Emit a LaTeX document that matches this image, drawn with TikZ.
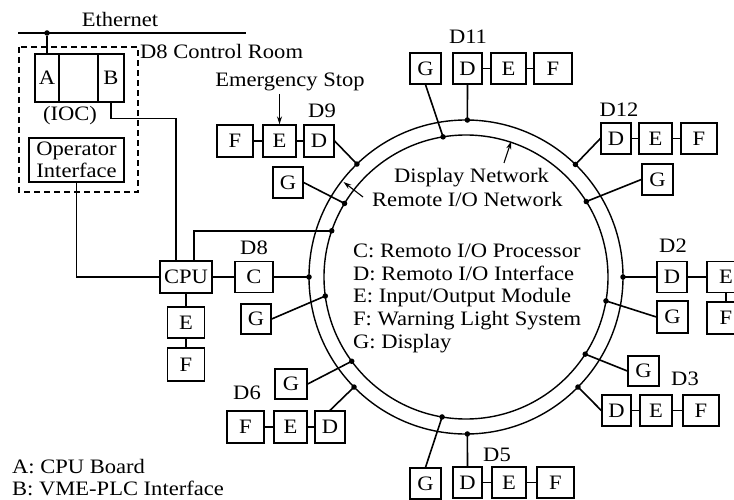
\documentclass[tikz,border=0pt]{standalone}
\usepackage{fontspec}
\setmainfont{Liberation Serif}[FakeStretch=1.1]
\usetikzlibrary{arrows.meta,calc}
\newcommand\fsz{\fontsize{20.5pt}{22.5pt}\selectfont}
\begin{document}
\begin{tikzpicture}[x=1pt,y=-1pt,
  every node/.style={font=\fsz, inner sep=0pt},
  bx/.style={draw, line width=1.3pt, minimum height=31pt},
  conn/.style={line width=1.6pt},
  ring/.style={line width=1.4pt},
  lbl/.style={anchor=base},
  dot/.style={circle, fill, minimum size=5.5pt, inner sep=0pt},
  arr/.style={line width=1.1pt, -{Stealth[length=8pt,width=5pt]}}]
\useasboundingbox (0,0) rectangle (734,500);

% ring
\coordinate (O) at (466,277);
\draw[ring] (O) circle [radius=157pt];
\draw[ring] (O) circle [radius=142pt];

% ring attachment points
\coordinate (p1) at ($(O)+(-89.5:157)$);
\coordinate (p2) at ($(O)+(-99.3:142)$);
\coordinate (p3) at ($(O)+(-134:157)$);
\coordinate (p4) at ($(O)+(-148.8:142)$);
\coordinate (p5) at ($(O)+(-161:142)$);
\coordinate (p6) at ($(O)+(-180:157)$);
\coordinate (p7) at ($(O)+(-187.7:142)$);
\coordinate (p8) at ($(O)+(-216.4:142)$);
\coordinate (p9) at ($(O)+(-224.5:157)$);
\coordinate (p10) at ($(O)+(-260.3:142)$);
\coordinate (p11) at ($(O)+(-270.5:157)$);
\coordinate (p12) at ($(O)+(-315.5:157)$);
\coordinate (p13) at ($(O)+(-327.1:142)$);
\coordinate (p14) at ($(O)+(-350.3:142)$);
\coordinate (p15) at ($(O)+(0:157)$);
\coordinate (p16) at ($(O)+(-32.1:142)$);
\coordinate (p17) at ($(O)+(-45.8:157)$);

% ---- control room ----
\node[lbl] (ethl) at (120,26.7) {Ethernet};
\coordinate (e1) at (18,33);
\coordinate (e2) at (246,33);
\draw[conn] (e1) -- (e2);
\draw[line width=1.2pt, dash pattern=on 6pt off 4pt] (19,47) rectangle (138,192);
\node[anchor=base west] (ctrl) at (140,58.3) {D8 Control Room};
\node[bx, minimum width=24pt, minimum height=48pt] (A) at (47,78) {A};
\node[bx, minimum width=39pt, minimum height=48pt] (M) at (78.5,78) {};
\node[bx, minimum width=26pt, minimum height=48pt] (B) at (111,78) {B};
\node[lbl] (ioc) at (70,121) {(IOC)};
\node[bx, minimum width=95pt, minimum height=44pt, align=center] (OI) at (76.5,160) {Operator\\Interface};
\node[dot] (ed) at (47,33) {};
\draw[conn] (ed) -- (A.north);

% ---- CPU / D8 ----
\node[bx, minimum width=52pt, minimum height=32pt] (CPU) at (186,277) {CPU};
\node[bx, minimum width=37pt] (E0) at (186,322.5) {E};
\node[bx, minimum width=37pt, minimum height=33pt] (F0) at (186,364.5) {F};
\node[bx, minimum width=38pt] (C) at (254,277) {C};
\node[lbl] (d8l) at (254,254) {D8};
\node[bx, minimum width=30pt, minimum height=30pt] (G8) at (256,319) {G};
\draw[conn] (OI.south) |- (CPU.west);
\draw[conn] (B.south) -- ++(0,16) -| ($(CPU.north)+(-10,0)$);
\draw[conn] ($(CPU.north)+(8,0)$) |- (p5);
\draw[conn] (CPU.east) -- (C.west);
\draw[conn] (C.east) -- (p6);
\draw[conn] (G8.east) -- (p7);
\draw[conn] (CPU.south) -- (E0.north);
\draw[conn] (E0.south) -- (F0.north);

% ---- D9 ----
\node[bx, minimum width=36pt, minimum height=32pt] (F9) at (235,141) {F};
\node[bx, minimum width=33pt, minimum height=32pt] (E9) at (279.5,141) {E};
\node[bx, minimum width=30pt, minimum height=32pt] (D9) at (319,141) {D};
\node[lbl] (d9l) at (322,118) {D9};
\node[bx, minimum width=30pt] (G9) at (288,182.5) {G};
\node[lbl] (es) at (290,87) {Emergency Stop};
\coordinate (esa) at (279.5,94);
\draw[arr] (esa) -- (E9.north);
\draw[conn] (F9.east) -- (E9.west);
\draw[conn] (E9.east) -- (D9.west);
\draw[conn] (D9.east) -- (p3);
\draw[conn] (G9.east) -- (p4);

% ---- D11 ----
\node[bx, minimum width=31pt] (G11) at (425.5,68.5) {G};
\node[bx, minimum width=29pt] (D11) at (467.5,68.5) {D};
\node[bx, minimum width=35pt] (E11) at (508.5,68.5) {E};
\node[bx, minimum width=38pt] (F11) at (553,68.5) {F};
\node[lbl] (d11l) at (468,44) {D11};
\draw[conn] (D11.east) -- (E11.west);
\draw[conn] (E11.east) -- (F11.west);
\draw[conn] (D11.south) -- (p1);
\draw[conn] (G11.south) -- (p2);

% ---- D12 ----
\node[bx, minimum width=30pt] (D12) at (616,138.5) {D};
\node[bx, minimum width=33pt] (E12) at (655.5,138.5) {E};
\node[bx, minimum width=36pt] (F12) at (699,138.5) {F};
\node[lbl] (d12l) at (619,116.7) {D12};
\node[bx, minimum width=31pt] (G12) at (657.5,179.5) {G};
\draw[conn] (D12.east) -- (E12.west);
\draw[conn] (E12.east) -- (F12.west);
\draw[conn] (D12.west) -- (p17);
\draw[conn] (G12.west) -- (p16);

% ---- D2 ----
\node[bx, minimum width=30pt] (D2) at (672,277) {D};
\node[bx, minimum width=38pt] (E2) at (726,277) {E};
\node[bx, minimum width=38pt, minimum height=32pt] (F2) at (726,318) {F};
\node[lbl] (d2l) at (673,252.3) {D2};
\node[bx, minimum width=31pt, minimum height=32pt] (G2) at (672.5,317) {G};
\draw[conn] (D2.east) -- (E2.west);
\draw[conn] (E2.south) -- (F2.north);
\draw[conn] (D2.west) -- (p15);
\draw[conn] (G2.west) -- (p14);

% ---- D3 ----
\node[bx, minimum width=31pt, minimum height=30pt] (G3) at (643.5,371) {G};
\node[bx, minimum width=29pt] (D3) at (616.5,410.5) {D};
\node[bx, minimum width=32pt] (E3) at (656,410.5) {E};
\node[bx, minimum width=36pt] (F3) at (701,410.5) {F};
\node[lbl] (d3l) at (685,385) {D3};
\draw[conn] (D3.east) -- (E3.west);
\draw[conn] (E3.east) -- (F3.west);
\draw[conn] (D3.west) -- (p12);
\draw[conn] (G3.west) -- (p13);

% ---- D5 ----
\node[bx, minimum width=31pt] (Gb) at (425.5,483.5) {G};
\node[bx, minimum width=29pt] (D5) at (467.5,482.5) {D};
\node[bx, minimum width=34pt] (E5) at (509,482.5) {E};
\node[bx, minimum width=37pt] (F5) at (555.5,482.5) {F};
\node[lbl] (d5l) at (497,461.7) {D5};
\draw[conn] (D5.east) -- (E5.west);
\draw[conn] (E5.east) -- (F5.west);
\draw[conn] (D5.north) -- (p11);
\draw[conn] (Gb.north) -- (p10);

% ---- D6 ----
\node[bx, minimum width=32pt, minimum height=30pt] (G6) at (291,384) {G};
\node[bx, minimum width=37pt, minimum height=32pt] (F6) at (245.5,427) {F};
\node[bx, minimum width=33pt, minimum height=32pt] (E6) at (290.5,427) {E};
\node[bx, minimum width=30pt, minimum height=32pt] (D6) at (330,427) {D};
\node[lbl] (d6l) at (247,399.3) {D6};
\draw[conn] (F6.east) -- (E6.west);
\draw[conn] (E6.east) -- (D6.west);
\draw[conn] (D6.north) -- (p9);
\draw[conn] (G6.east) -- (p8);

% dots on the ring
\foreach \p in {p1,p2,p3,p4,p5,p6,p7,p8,p9,p10,p11,p12,p13,p14,p15,p16,p17}
  \node[dot] at (\p) {};

% ---- network labels ----
\node[anchor=base west] (dn) at (394,182.3) {Display Network};
\node[anchor=base west] (rn) at (372,206.7) {Remote I/O Network};
\coordinate (dna) at (504,163);
\coordinate (rna) at (363,197);
\draw[arr] (dna) -- ($(O)+(-71.6:143)$);
\draw[arr] (rna) -- ($(O)+(-142.2:155)$);

% ---- legends ----
\node[anchor=base west] (lc) at (353,257.3) {C: Remoto I/O Processor};
\node[anchor=base west] (ld) at (353,280) {D: Remoto I/O Interface};
\node[anchor=base west] (le) at (353,302.8) {E: Input/Output Module};
\node[anchor=base west] (lf) at (353,325.5) {F: Warning Light System};
\node[anchor=base west] (lg) at (353,348.3) {G: Display};
\node[anchor=base west] (la) at (12,473.3) {A: CPU Board};
\node[anchor=base west] (lb) at (12,495) {B: VME-PLC Interface};
\end{tikzpicture}
\end{document}
